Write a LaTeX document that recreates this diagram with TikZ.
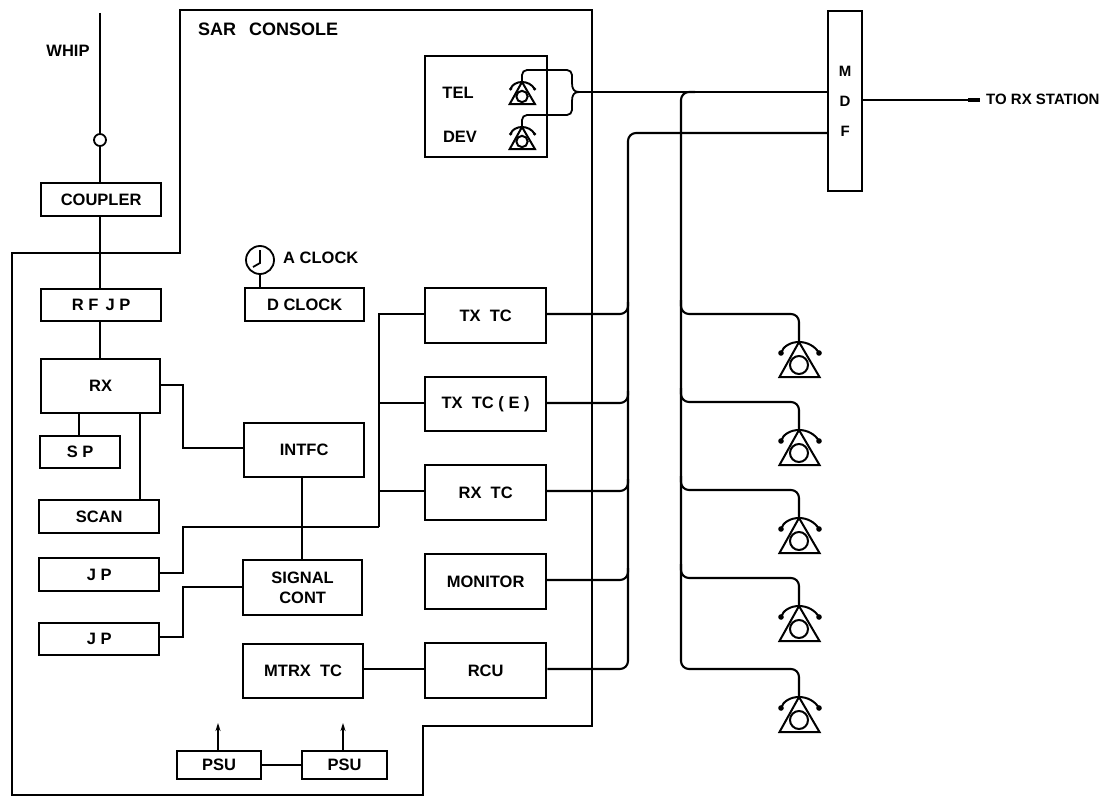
\documentclass[tikz,border=0pt]{standalone}
\usepackage{fontspec}
\usetikzlibrary{arrows.meta}
\setmainfont{Liberation Sans}
\tikzset{
  x=1pt,y=-1pt,
  wire/.style={draw=black,line width=2.1pt,rounded corners=8pt},
  wirethin/.style={draw=black,line width=1.8pt},
  blk/.style={draw=black,line width=2.3pt,inner sep=0pt,font=\fontsize{16.5}{20}\selectfont\bfseries,align=center,anchor=north west},
  lbl/.style={inner sep=0pt,font=\fontsize{16.5}{18}\selectfont\bfseries}
}
\newcommand{\phonesym}[3]{%
  \begin{scope}[shift={(#1,#2)},scale=#3,line width=2pt]
    \draw (0,0) -- (-19.5,35) -- (20.5,35) -- cycle;
    \draw (0,23) circle (9);
    \draw (-18,11) .. controls (-16,4) and (-8,0) .. (0,0) .. controls (8,0) and (16,4) .. (20,11);
    \fill (-18,11) circle (2.8) (20,11) circle (2.8);
  \end{scope}}
\begin{document}
\begin{tikzpicture}
\useasboundingbox (0,0) rectangle (1113,797);
\fill[white] (0,0) rectangle (1113,797);
\draw[line width=2.4pt,line join=miter] (180,10) -- (592,10) -- (592,726) -- (423,726) -- (423,795) -- (12,795) -- (12,253) -- (180,253) -- cycle;
\node[lbl] (whip) at (68,51) {WHIP};
\node[draw=black,line width=1.8pt,circle,minimum size=12pt,inner sep=0pt] (ring) at (100,140) {};
\node[blk,minimum width=120,minimum height=33] (coupler) at (40,182) {COUPLER};
\node[blk,minimum width=120,minimum height=32] (rfjp) at (40,288) {R F\, J P};
\node[blk,minimum width=119,minimum height=54] (rx) at (40,358) {RX};
\node[blk,minimum width=80,minimum height=32] (sp) at (39,435) {S P};
\node[blk,minimum width=120,minimum height=33] (scan) at (38,499) {SCAN};
\node[blk,minimum width=120,minimum height=33] (jpa) at (38,557) {J P};
\node[blk,minimum width=120,minimum height=32] (jpb) at (38,622) {J P};
\node[blk,minimum width=119,minimum height=33] (dclock) at (244,287) {D CLOCK};
\node[blk,minimum width=120,minimum height=54] (intfc) at (243,422) {INTFC};
\node[blk,minimum width=119,minimum height=55] (sig) at (242,559) {SIGNAL\\CONT};
\node[blk,minimum width=120,minimum height=54] (mtrx) at (242,643) {MTRX\ \ TC};
\node[blk,minimum width=121,minimum height=55] (txtc) at (424,287) {TX\ \ TC};
\node[blk,minimum width=121,minimum height=54] (txe) at (424,376) {TX\ \ TC ( E )};
\node[blk,minimum width=121,minimum height=55] (rxtc) at (424,464) {RX\ \ TC};
\node[blk,minimum width=121,minimum height=55] (mon) at (424,553) {MONITOR};
\node[blk,minimum width=121,minimum height=55] (rcu) at (424,642) {RCU};
\node[blk,minimum width=84,minimum height=28] (psua) at (176,750) {PSU};
\node[blk,minimum width=85,minimum height=28] (psub) at (301,750) {PSU};
\node[blk,minimum width=34,minimum height=180,font=\fontsize{15}{30}\selectfont\bfseries] (mdf) at (827,10) {M\\D\\F};
\node[draw=black,line width=2.2pt,minimum width=122,minimum height=101,inner sep=0pt,anchor=north west] (telbox) at (424,55) {};
\node[lbl] (tel) at (458,93) {TEL};
\node[lbl] (dev) at (460,137) {DEV};
\node[lbl,anchor=west] (aclock) at (283,258) {A CLOCK};
\node[lbl,anchor=west,font=\fontsize{18}{20}\selectfont\bfseries] (sar) at (198,29) {SAR\hspace{13pt}CONSOLE};
\node[lbl,anchor=west,font=\fontsize{15}{18}\selectfont\bfseries] (torx) at (986,99) {TO RX STATION};
% clock
\node[draw=black,line width=1.8pt,circle,minimum size=28pt,inner sep=0pt] (clk) at (260,260) {};
\draw[line width=1.8pt] (260,250) -- (260,263) -- (253,267);
\draw[wirethin] (clk.south) -- (clk.south |- dclock.north);
% antenna
\coordinate (whiptop) at (100,13);
\draw[wirethin] (whiptop) -- (ring.north);
\draw[wirethin] (ring.south) -- (ring.south |- coupler.north);
\draw[wirethin] (coupler.south -| ring) -- (ring |- rfjp.north);
\draw[wirethin] (rfjp.south -| ring) -- (ring |- rx.north);
% RX group
\draw[wirethin] (sp.north -| 79,0) -- (79,412);
\draw[wirethin] (scan.north -| 140,0) -- (140,412);
\draw[wirethin] (rx.east |- 0,385) -- (183,385) -- (183,448) -- (intfc.west |- 0,448);
\draw[wirethin] (intfc.south -| 302,0) -- (sig.north -| 302,0);
\draw[wirethin] (jpa.east |- 0,573) -- (183,573) -- (183,527) -- (379,527);
\draw[wirethin] (jpb.east |- 0,637) -- (183,637) -- (183,587) -- (sig.west |- 0,587);
\draw[wirethin] (txtc.west |- 0,314) -- (379,314) -- (379,527);
\draw[wirethin] (379,403) -- (txe.west |- 0,403);
\draw[wirethin] (379,491) -- (rxtc.west |- 0,491);
\draw[wirethin] (mtrx.east |- 0,669) -- (rcu.west |- 0,669);
\draw[wirethin] (psua.east) -- (psub.west);
\draw[wirethin,-{Stealth[length=8pt,width=5pt]}] (psua.north -| 218,0) -- (218,723);
\draw[wirethin,-{Stealth[length=8pt,width=5pt]}] (psub.north -| 343,0) -- (343,723);
% bus 1 to MDF
\foreach \yy in {314,403,491,580} {\draw[wire] (545,\yy) -- (628,\yy) -- (628,\yy-12);}
\draw[wire] (rcu.east |- 0,669) -- (628,669) -- (628,133) -- (mdf.west |- 0,133);
% telephones and brace
\phonesym{522}{82}{0.63}
\phonesym{522}{127}{0.63}
\coordinate (tip) at (579,92);
\draw[wirethin,rounded corners=5pt] (522,82) -- (522,70) -- (572,70) -- (572,83);
\draw[wirethin,rounded corners=5pt] (522,127) -- (522,115) -- (572,115) -- (572,101);
\draw[wirethin] (572,83) .. controls (572,89) and (574,92) .. (tip) .. controls (574,92) and (572,95) .. (572,101);
\draw[wire] (tip) -- (mdf.west |- tip);
\coordinate (rxend) at (980,100);
\draw[wirethin] (mdf.east |- rxend) -- (rxend);
\draw[line width=3.2pt] (968,100) -- (rxend);
% bus 2 to phones
\draw[wire] (695,92) -- (681,92) -- (681,669) -- (799,669) -- (799,697);
\phonesym{799}{697}{1}
\foreach \yy in {314,402,490,578} {
  \draw[wire] (681,\yy-14) -- (681,\yy) -- (799,\yy) -- (799,\yy+28);
  \phonesym{799}{\yy+28}{1}
}
\end{tikzpicture}
\end{document}
